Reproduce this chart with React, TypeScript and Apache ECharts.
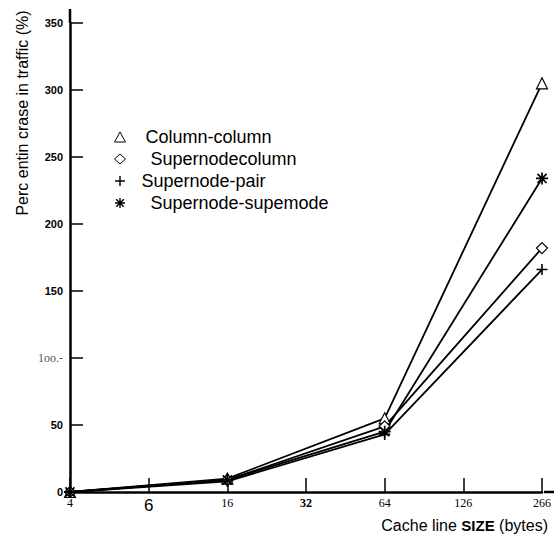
import React, { useEffect, useRef } from "react";
import * as echarts from "echarts";

const categories = ["4", "6", "16", "32", "64", "126", "266"];
const yTickValues = [0, 50, 100, 150, 200, 250, 300, 350];
const yTickLabels = ["0", "50", "1oo.-", "150", "200", "250", "300", "350"];
const seriesNames = ["Column-column", "Supernodecolumn", "Supernode-pair", "Supernode-supemode"];
const columnColumn = [0, null, 10, null, 55, null, 305];
const supernodeColumn = [0, null, 9, null, 49, null, 182];
const supernodePair = [0, null, 8, null, 43, null, 166];
const supernodeSupernode = [0, null, 9, null, 45, null, 234];
const yTitle = "Perc entin crase in traffic (%)";

const PLUS = "path://M4.3,0H5.7V4.3H10V5.7H5.7V10H4.3V5.7H0V4.3H4.3Z";
const STAR =
  "path://M4.3,0H5.7V10H4.3Z M0.7,1.7L1.7,0.7L9.3,8.3L8.3,9.3Z M8.3,0.7L9.3,1.7L1.7,9.3L0.7,8.3Z M0,4.3H10V5.7H0Z";

export default function App() {
  const ref = useRef<HTMLDivElement>(null);
  useEffect(() => {
    if (!ref.current) return;
    const chart = echarts.init(ref.current, null, { renderer: "svg" });
    const sans = "'Liberation Sans', Arial, sans-serif";
    const serif = "'Liberation Serif', 'Times New Roman', serif";
    const mk = (name: string, data: (number | null)[], symbol: string, size: number, hollow: boolean) => ({
      name,
      type: "line",
      data,
      connectNulls: true,
      symbol,
      symbolSize: size,
      showAllSymbol: true,
      lineStyle: { color: "#000", width: 1.8 },
      itemStyle: hollow
        ? { color: "#fff", borderColor: "#000", borderWidth: 1.2 }
        : { color: "#000", borderWidth: 0 },
    });
    const legendPads = [15, 20, 11, 20];
    chart.setOption({
      animation: false,
      backgroundColor: "#fff",
      grid: { left: 70, right: 10, top: 23, bottom: 47 },
      xAxis: {
        type: "category",
        data: categories,
        boundaryGap: false,
        axisLine: { lineStyle: { color: "#000", width: 2.5 } },
        axisTick: { inside: true, length: 14, lineStyle: { color: "#000", width: 1.5 } },
        axisLabel: {
          margin: 5,
          color: "#000",
          fontFamily: serif,
          fontSize: 12,
          formatter: (v: string) => (v === "6" ? "{big|6}" : v === "32" ? "{bold|32}" : v),
          rich: {
            big: { fontFamily: sans, fontSize: 17, color: "#000" },
            bold: { fontFamily: serif, fontSize: 12, fontWeight: "bold", color: "#000" },
          },
        },
        splitLine: { show: false },
      },
      yAxis: {
        type: "value",
        min: 0,
        max: 350,
        interval: 50,
        axisLine: { show: true, lineStyle: { color: "#000", width: 2.5 } },
        axisTick: { show: true, inside: true, length: 13, lineStyle: { color: "#000", width: 1.5 } },
        splitLine: { show: false },
        axisLabel: {
          margin: 7,
          color: "#000",
          fontFamily: sans,
          fontSize: 11,
          fontWeight: "bold",
          formatter: (v: number) => {
            const i = yTickValues.indexOf(v);
            const t = i >= 0 ? yTickLabels[i] : String(v);
            return v === 100 ? "{s|" + t + "}" : t;
          },
          rich: { s: { fontFamily: serif, fontSize: 12, fontWeight: "normal", color: "#555" } },
        },
      },
      legend: {
        orient: "vertical",
        left: 109,
        top: 123,
        itemWidth: 11,
        itemHeight: 10,
        itemGap: 4,
        textStyle: { fontFamily: sans, fontSize: 18, color: "#000" },
        data: seriesNames.map((n, i) => ({
          name: n,
          icon: ["triangle", "diamond", PLUS, STAR][i],
          itemStyle: i < 2 ? { color: "#fff", borderColor: "#000", borderWidth: 1 } : { color: "#000" },
          textStyle: { padding: [0, 0, 0, legendPads[i]] },
        })),
      },
      series: [
        mk(seriesNames[0], columnColumn, "triangle", 11, true),
        mk(seriesNames[1], supernodeColumn, "diamond", 11, true),
        mk(seriesNames[2], supernodePair, PLUS, 11, false),
        mk(seriesNames[3], supernodeSupernode, STAR, 12, false),
      ],
      graphic: [
        { type: "line", shape: { x1: 70, y1: 9, x2: 70, y2: 23 }, style: { stroke: "#000", lineWidth: 2.5 } },
        { type: "line", shape: { x1: 544, y1: 492, x2: 554, y2: 492 }, style: { stroke: "#000", lineWidth: 2.5 } },
        {
          type: "text",
          x: 22,
          y: 113,
          rotation: Math.PI / 2,
          style: {
            text: yTitle,
            font: "16px " + sans,
            fill: "#000",
            textAlign: "center",
            textVerticalAlign: "middle",
          },
        },
        {
          type: "text",
          x: 548,
          y: 525,
          style: {
            text: "Cache line {b|SIZE} (bytes)",
            font: "16px " + sans,
            fill: "#000",
            textAlign: "right",
            textVerticalAlign: "middle",
            rich: { b: { fontFamily: sans, fontSize: 15, fontWeight: "bold", fill: "#000" } },
          },
        },
      ],
    });
    return () => chart.dispose();
  }, []);
  return (
    <div
      ref={ref}
      style={{ position: "absolute", left: 0, top: 0, width: 554, height: 539 }}
    />
  );
}
